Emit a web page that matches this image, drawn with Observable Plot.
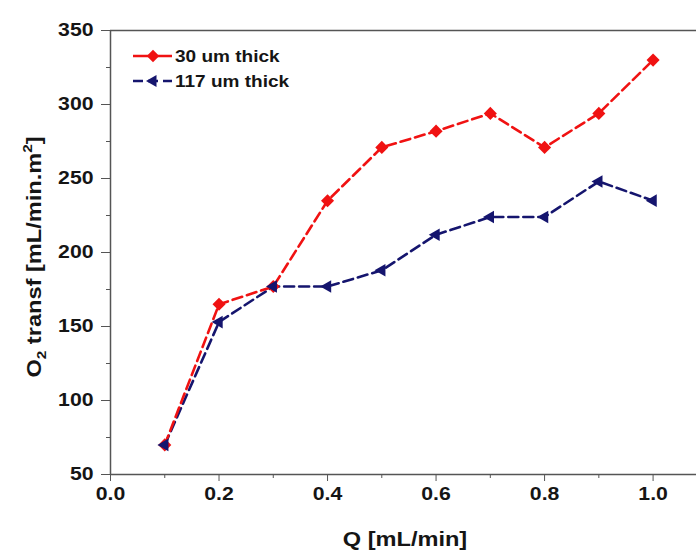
<!DOCTYPE html>
<html>
<head>
<meta charset="utf-8">
<script src="https://cdn.jsdelivr.net/npm/d3@7"></script>
<script src="https://cdn.jsdelivr.net/npm/@observablehq/plot@0.6"></script>
<style>
  html, body { margin: 0; padding: 0; background: #fff; }
  #chart svg { display: block; }
</style>
</head>
<body>
<div id="chart"></div>
<script>
// ---- data ----
const flowQ = [0.1, 0.2, 0.3, 0.4, 0.5, 0.6, 0.7, 0.8, 0.9, 1.0];
const thick30 = [70, 165, 177, 235, 271, 282, 294, 271, 294, 330];
const thick117 = [70, 153, 177, 177, 188, 212, 224, 224, 248, 235];
const seriesNames = ["30 um thick", "117 um thick"];
const xMajorTicks = [0, 0.2, 0.4, 0.6, 0.8, 1.0];
const xMinorTicks = [0.1, 0.3, 0.5, 0.7, 0.9];
const yMajorTicks = [50, 100, 150, 200, 250, 300, 350];
const yMinorTicks = [75, 125, 175, 225, 275, 325];
const xTitle = "Q [mL/min]";

const RED = "#f01212";
const NAVY = "#15156e";
const AXIS = "#555";
const INK = "#151515";
const FONT = "'Liberation Sans', Arial, sans-serif";
const STRETCH = 1.18; // reference glyphs are horizontally widened

const rows30 = flowQ.map((q, i) => ({q, v: thick30[i], s: seriesNames[0]}));
const rows117 = flowQ.map((q, i) => ({q, v: thick117[i], s: seriesNames[1]}));

const plot = Plot.plot({
  width: 696,
  height: 552,
  marginLeft: 110,
  marginRight: 0,
  marginTop: 30,
  marginBottom: 78,
  style: {fontFamily: FONT, color: INK, background: "#fff"},
  x: {domain: [0, 1.08]},
  y: {domain: [50, 350]},
  marks: [
    Plot.ruleY([350], {stroke: AXIS, strokeWidth: 1.5}),
    Plot.ruleY([50], {stroke: AXIS, strokeWidth: 1.5}),
    Plot.ruleX([0], {stroke: AXIS, strokeWidth: 1.5}),
    Plot.axisY({ticks: yMajorTicks, tickSize: 9, tickPadding: 8, tickFormat: d => String(d),
      fontSize: 18, fontWeight: "bold", stroke: AXIS, label: null}),
    Plot.axisY({ticks: yMinorTicks, tickSize: 4, tickFormat: () => "", stroke: AXIS, label: null}),
    Plot.axisX({ticks: xMajorTicks, tickSize: 7, tickPadding: 6, tickFormat: d3.format(".1f"),
      fontSize: 18, fontWeight: "bold", stroke: AXIS, label: null}),
    Plot.axisX({ticks: xMinorTicks, tickSize: 4, tickFormat: () => "", stroke: AXIS, label: null}),
    Plot.lineY(rows117, {x: "q", y: "v", stroke: NAVY, strokeWidth: 2.6, strokeDasharray: "10,5"}),
    Plot.lineY(rows30, {x: "q", y: "v", stroke: RED, strokeWidth: 2.6, strokeDasharray: "10,5"}),
    Plot.dot(rows30, {x: "q", y: "v", symbol: "diamond2", r: 5.9, fill: RED, stroke: "none"}),
    Plot.dot(rows117, {x: "q", y: "v", symbol: "triangle", rotate: -90, r: 4.7, fill: NAVY, stroke: "none"})
  ]
});

document.getElementById("chart").appendChild(plot);

const svg = d3.select(plot);

// widen Plot's tick labels around their anchor points
svg.selectAll("text").each(function () {
  const t = d3.select(this);
  let tr = t.attr("transform") || "";
  const x = +(t.attr("x") || 0), y = +(t.attr("y") || 0);
  if (x || y) { tr = `translate(${x},${y}) ` + tr; t.attr("x", null).attr("y", null); }
  t.attr("transform", `${tr} scale(${STRETCH},1)`);
});

// ---- titles and legend added to the same SVG ----
svg.append("text")
  .attr("transform", `translate(405,546) scale(${STRETCH},1)`)
  .attr("text-anchor", "middle")
  .attr("font-family", FONT).attr("font-weight", "bold").attr("font-size", 20)
  .attr("fill", INK)
  .text(xTitle);

const yt = svg.append("text")
  .attr("transform", `translate(41,257) rotate(-90) scale(${STRETCH},1)`)
  .attr("text-anchor", "middle")
  .attr("font-family", FONT).attr("font-weight", "bold").attr("font-size", 20)
  .attr("fill", INK);
yt.append("tspan").text("O");
yt.append("tspan").attr("font-size", 13).attr("dy", 5).text("2");
yt.append("tspan").attr("dy", -5).text(" transf [mL/min.m");
yt.append("tspan").attr("font-size", 13).attr("dy", -9).text("2");
yt.append("tspan").attr("dy", 9).text("]");

const legend = [
  {name: seriesNames[0], color: RED, sym: d3.symbolDiamond2, size: Math.PI * 5.6 * 5.6, rot: 0, y: 56, dash: null},
  {name: seriesNames[1], color: NAVY, sym: d3.symbolTriangle, size: Math.PI * 4.5 * 4.5, rot: -90, y: 81, dash: "10,5"}
];
const lg = svg.append("g");
legend.forEach(d => {
  lg.append("line").attr("x1", 133).attr("x2", 172).attr("y1", d.y).attr("y2", d.y)
    .attr("stroke", d.color).attr("stroke-width", 2.6).attr("stroke-dasharray", d.dash);
  lg.append("path").attr("d", d3.symbol(d.sym, d.size)())
    .attr("transform", `translate(153,${d.y}) rotate(${d.rot})`).attr("fill", d.color);
  lg.append("text")
    .attr("transform", `translate(175,${d.y}) scale(1.12,1)`)
    .attr("text-anchor", "start").attr("dy", "0.36em")
    .attr("font-family", FONT).attr("font-weight", "bold").attr("font-size", 17)
    .attr("fill", INK).text(d.name);
});
</script>
</body>
</html>
